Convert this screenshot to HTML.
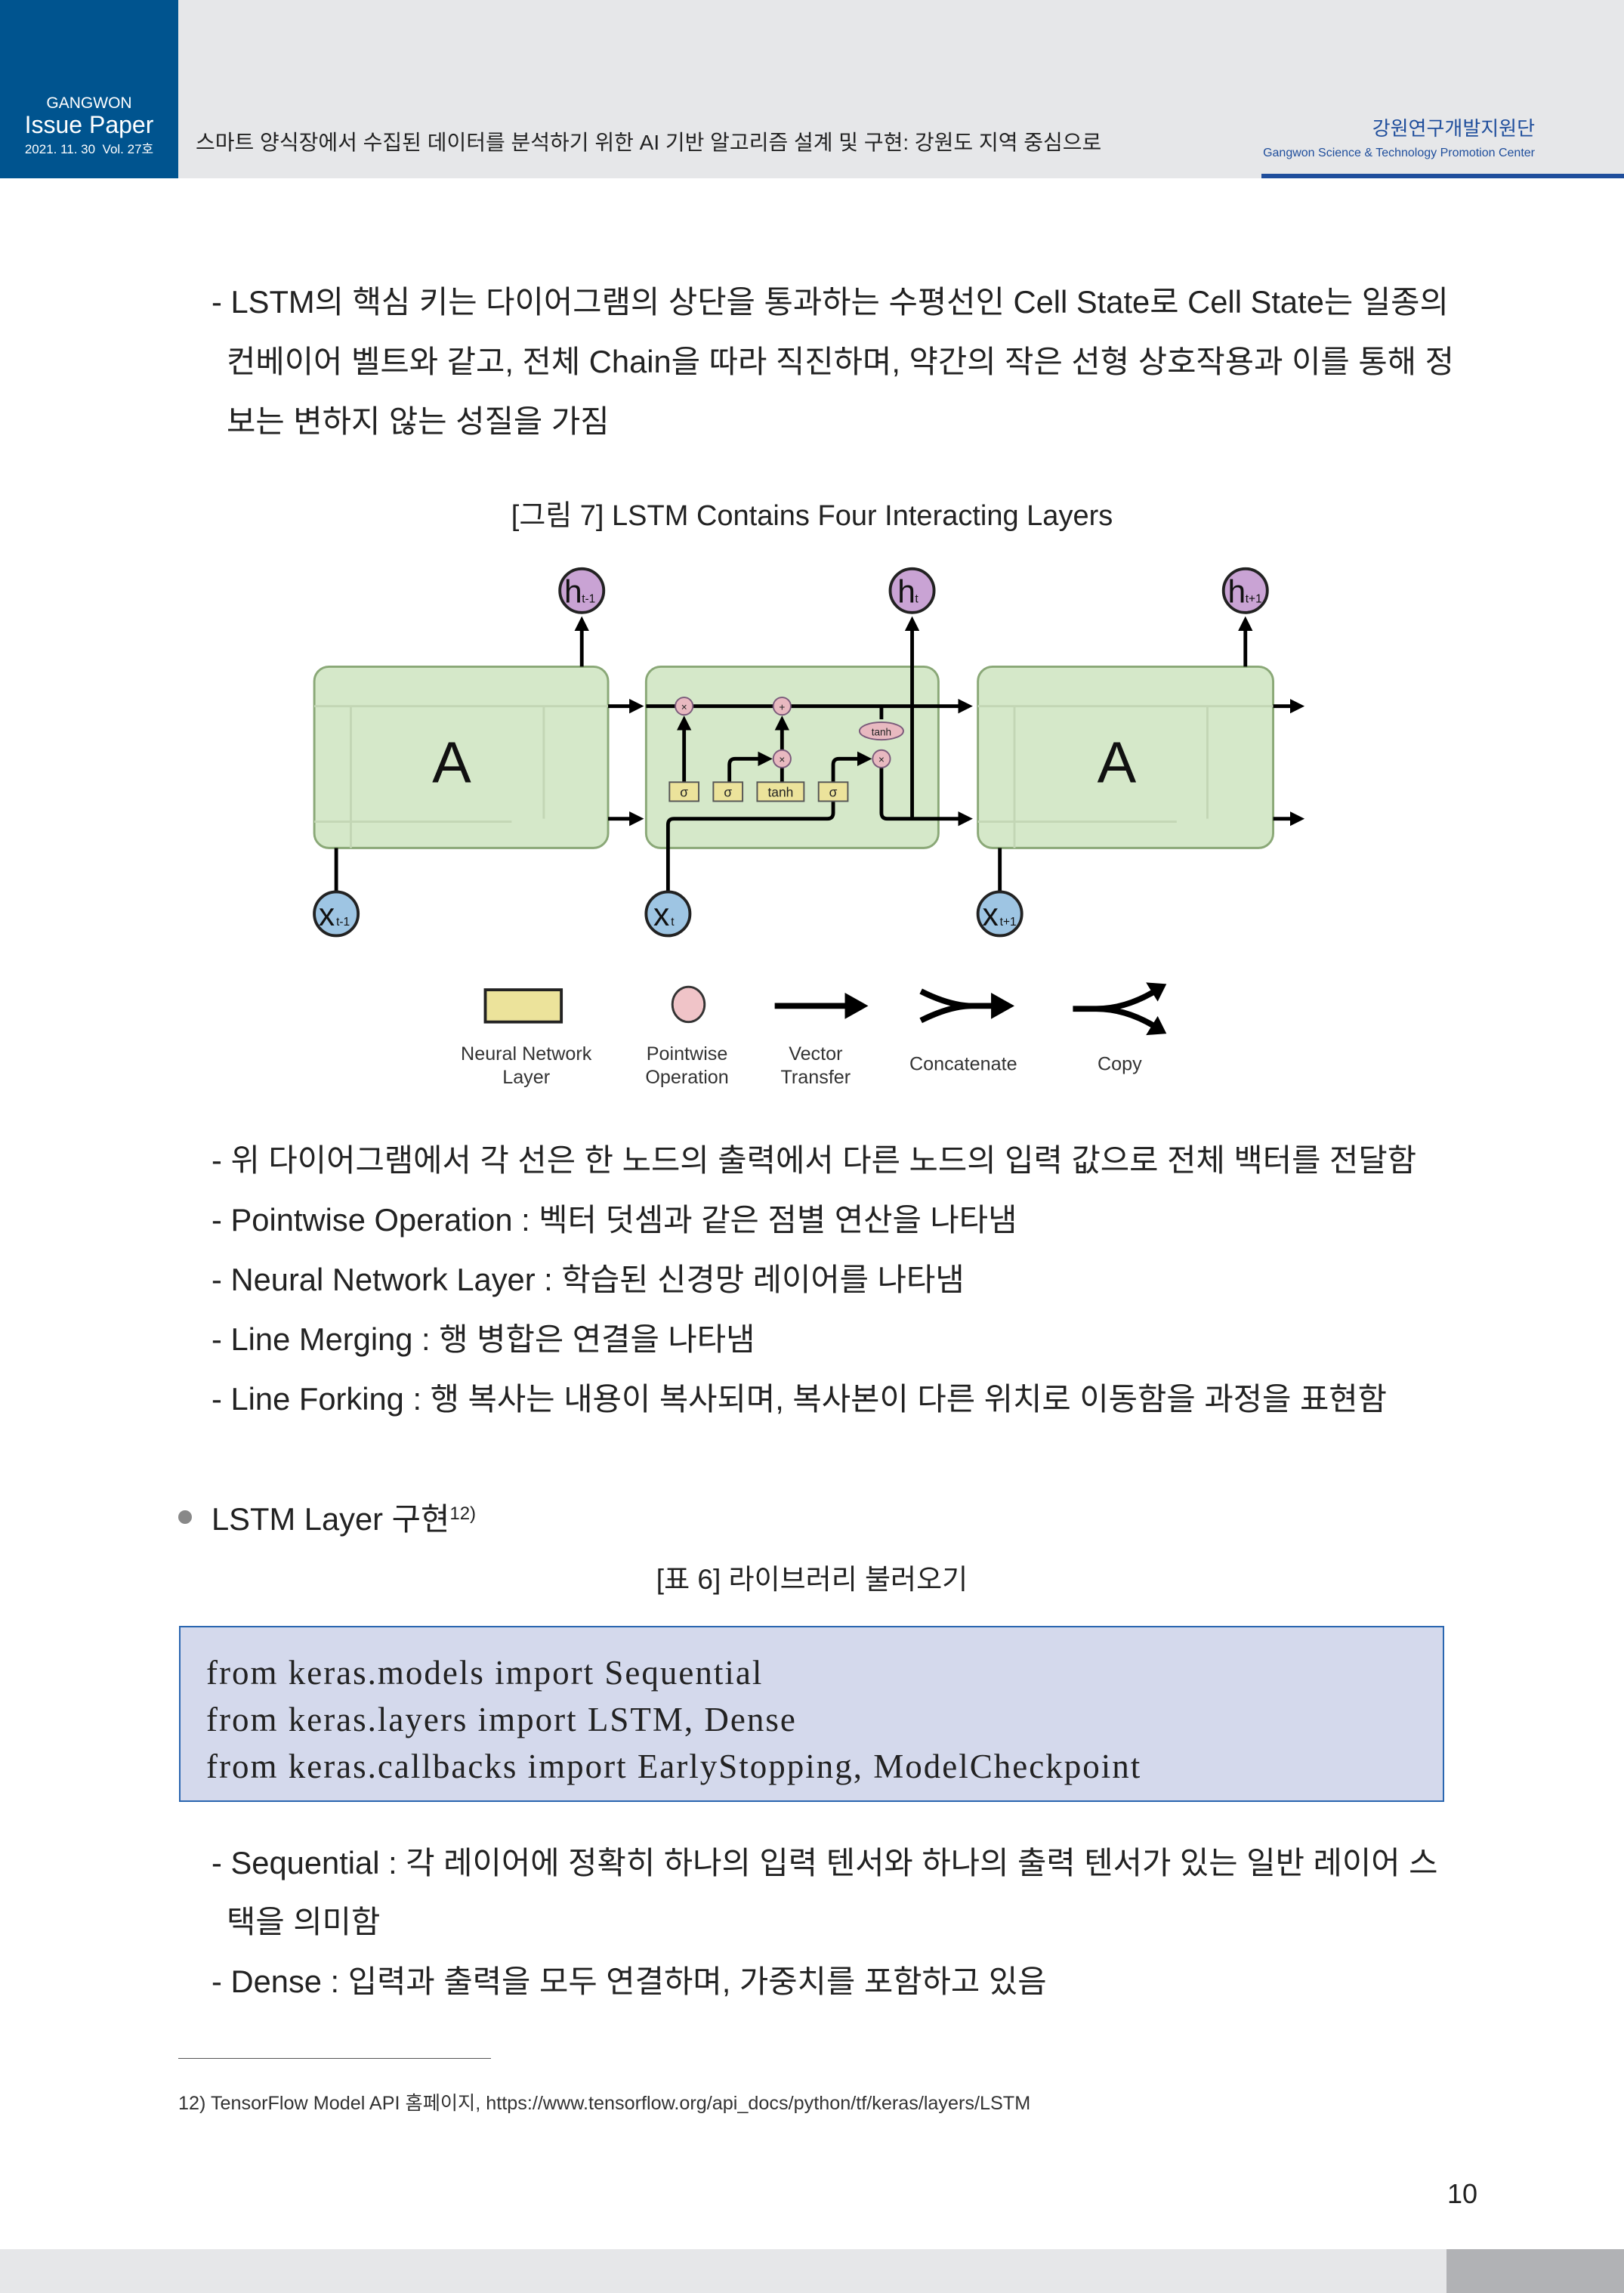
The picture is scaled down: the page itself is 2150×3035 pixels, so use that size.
<!DOCTYPE html>
<html><head><meta charset="utf-8">
<style>
*{margin:0;padding:0;box-sizing:border-box}
body{width:2150px;height:3035px;position:relative;background:#fff;overflow:hidden;font-family:"Liberation Sans","Noto Sans CJK KR",sans-serif;color:#222}
.a{position:absolute;white-space:nowrap;line-height:1}
.t{font-size:41.7px;color:#222}
</style></head><body>
<!-- header -->
<div class="a" style="left:0;top:0;width:2150px;height:236px;background:#e6e7e9"></div>
<div class="a" style="left:0;top:0;width:236px;height:236px;background:#00548f"></div>
<div class="a" style="left:0;top:126px;width:236px;text-align:center;color:#fff;font-size:21px">GANGWON</div>
<div class="a" style="left:0;top:149px;width:236px;text-align:center;color:#fff;font-size:32px">Issue Paper</div>
<div class="a" style="left:0;top:189px;width:236px;text-align:center;color:#fff;font-size:17px">2021. 11. 30 &nbsp;Vol. 27호</div>
<div class="a" style="left:259px;top:175px;font-size:28px;color:#222">스마트 양식장에서 수집된 데이터를 분석하기 위한 AI 기반 알고리즘 설계 및 구현: 강원도 지역 중심으로</div>
<div class="a" style="right:118px;top:157px;font-size:26px;color:#1f4e9c">강원연구개발지원단</div>
<div class="a" style="right:118px;top:195px;font-size:16px;color:#1f4e9c">Gangwon Science &amp; Technology Promotion Center</div>
<div class="a" style="left:1670px;top:230px;width:480px;height:6px;background:#1f4e9c"></div>

<!-- paragraph -->
<div class="a t" style="left:280px;top:379px">- LSTM의 핵심 키는 다이어그램의 상단을 통과하는 수평선인 Cell State로 Cell State는 일종의</div>
<div class="a t" style="left:300px;top:458px">컨베이어 벨트와 같고, 전체 Chain을 따라 직진하며, 약간의 작은 선형 상호작용과 이를 통해 정</div>
<div class="a t" style="left:300px;top:537px">보는 변하지 않는 성질을 가짐</div>
<div class="a" style="left:0;width:2150px;text-align:center;top:664px;font-size:38px;color:#222">[그림 7] LSTM Contains Four Interacting Layers</div>

<svg class="a" style="left:0;top:0" width="2150" height="3035" viewBox="0 0 1111 1568.37">
<defs><marker id="ar" markerWidth="4" markerHeight="4" refX="3" refY="2" orient="auto" markerUnits="strokeWidth"><path d="M0,0 L4,2 L0,4 z" fill="#000"/></marker></defs>
<g stroke="#8aa877" stroke-width="1.5" fill="#d5e8c9">
<rect x="215" y="456" width="201" height="124" rx="10"/>
<rect x="442" y="456" width="200" height="124" rx="10"/>
<rect x="669" y="456" width="202" height="124" rx="10"/>
</g>
<g stroke="#c3d6b5" stroke-width="1.5" fill="none">
<path d="M215 483H416M215 562H350M240 483V580M372 483V560"/>
<path d="M669 483H871M669 562H805M694 483V580M826 483V560"/>
</g>
<text x="309" y="535" font-size="40" text-anchor="middle" font-family="Liberation Sans" fill="#111">A</text>
<text x="764" y="535" font-size="40" text-anchor="middle" font-family="Liberation Sans" fill="#111">A</text>
<g stroke="#000" stroke-width="2.5" fill="none" marker-end="url(#ar)">
<path d="M416 483H438"/><path d="M416 560H438"/>
<path d="M442 483H663"/><path d="M871 483H890"/><path d="M871 560H890"/>
<path d="M398 456V424"/><path d="M624 560V424"/><path d="M852 456V424"/>
<path d="M468 535V492"/><path d="M535 519V492"/>
<path d="M499 535V523Q499 519 503 519H526"/>
<path d="M570 535V523Q570 519 574 519H594"/>
<path d="M603 525V556Q603 560 607 560H663"/>
</g>
<g stroke="#000" stroke-width="2.5" fill="none">
<path d="M230 610V580"/><path d="M684 610V580"/>
<path d="M457 610V564Q457 560 461 560H566Q570 560 570 556V548"/>
<path d="M535 535V525"/><path d="M603 483V492"/>
</g>
<g stroke="#7a5a7a" stroke-width="1" fill="#e8b9c0">
<circle cx="468" cy="483" r="6"/><circle cx="535" cy="483" r="6"/>
<circle cx="535" cy="519" r="6"/><circle cx="603" cy="519" r="6"/>
<ellipse cx="603" cy="500" rx="15" ry="6"/>
</g>
<g font-size="7" text-anchor="middle" font-family="Liberation Sans" fill="#222">
<text x="468" y="486">×</text><text x="535" y="486">+</text><text x="535" y="522">×</text><text x="603" y="522">×</text><text x="603" y="503">tanh</text>
</g>
<g stroke="#555" stroke-width="1" fill="#ece39b">
<rect x="458" y="535" width="20" height="13"/><rect x="488" y="535" width="20" height="13"/><rect x="518" y="535" width="32" height="13"/><rect x="560" y="535" width="20" height="13"/>
</g>
<g font-size="9" text-anchor="middle" font-family="Liberation Sans" fill="#222">
<text x="468" y="545">σ</text><text x="498" y="545">σ</text><text x="534" y="545">tanh</text><text x="570" y="545">σ</text>
</g>
<g stroke="#222" stroke-width="2" fill="#c9a3d4">
<circle cx="398" cy="404" r="15"/><circle cx="624" cy="404" r="15"/><circle cx="852" cy="404" r="15"/>
</g>
<g stroke="#222" stroke-width="2" fill="#9ec5e3">
<circle cx="230" cy="625" r="15"/><circle cx="457" cy="625" r="15"/><circle cx="684" cy="625" r="15"/>
</g>
<g font-family="Liberation Sans" fill="#111">
<text x="386" y="412" font-size="22">h</text><text x="398" y="412" font-size="8">t-1</text>
<text x="614" y="412" font-size="22">h</text><text x="626" y="412" font-size="8">t</text>
<text x="840" y="412" font-size="22">h</text><text x="852" y="412" font-size="8">t+1</text>
<text x="218" y="633" font-size="22">x</text><text x="230" y="633" font-size="8">t-1</text>
<text x="447" y="633" font-size="22">x</text><text x="459" y="633" font-size="8">t</text>
<text x="672" y="633" font-size="22">x</text><text x="684" y="633" font-size="8">t+1</text>
</g>
<!-- legend -->
<rect x="332" y="677" width="52" height="22" fill="#ece39b" stroke="#222" stroke-width="2"/>
<ellipse cx="471" cy="687" rx="11" ry="12" fill="#f0c4c8" stroke="#333" stroke-width="1.5"/>
<g stroke="#000" stroke-width="4" fill="none">
<path d="M530 688H580"/>
<path d="M630 678Q650 688 665 688H680M630 698Q650 688 665 688"/>
<path d="M734 690H750Q770 690 790 678M750 690Q770 690 790 702"/>
</g>
<g fill="#000"><path d="M578 679L594 688L578 697z"/><path d="M678 679L694 688L678 697z"/><path d="M784 672L798 673L792 685z"/><path d="M784 708L798 707L792 695z"/></g>
<g font-size="13" text-anchor="middle" font-family="Liberation Sans" fill="#333">
<text x="360" y="725">Neural Network</text><text x="360" y="741">Layer</text>
<text x="470" y="725">Pointwise</text><text x="470" y="741">Operation</text>
<text x="558" y="725">Vector</text><text x="558" y="741">Transfer</text>
<text x="659" y="732">Concatenate</text><text x="766" y="732">Copy</text>
</g>
</svg>

<div class="a t" style="left:280px;top:1515px">- 위 다이어그램에서 각 선은 한 노드의 출력에서 다른 노드의 입력 값으로 전체 백터를 전달함</div>
<div class="a t" style="left:280px;top:1594px">- Pointwise Operation : 벡터 덧셈과 같은 점별 연산을 나타냄</div>
<div class="a t" style="left:280px;top:1673px">- Neural Network Layer : 학습된 신경망 레이어를 나타냄</div>
<div class="a t" style="left:280px;top:1752px">- Line Merging : 행 병합은 연결을 나타냄</div>
<div class="a t" style="left:280px;top:1831px">- Line Forking : 행 복사는 내용이 복사되며, 복사본이 다른 위치로 이동함을 과정을 표현함</div>

<div class="a" style="left:236px;top:1999px;width:18px;height:18px;border-radius:50%;background:#888"></div>
<div class="a t" style="left:280px;top:1990px">LSTM Layer 구현<sup style="font-size:24px;vertical-align:14px">12)</sup></div>
<div class="a" style="left:0;width:2150px;text-align:center;top:2072px;font-size:37px">[표 6] 라이브러리 불러오기</div>

<div class="a" style="left:237px;top:2152px;width:1675px;height:233px;background:#d4d9ec;border:2px solid #2a66b0"></div>
<div class="a" style="left:273px;top:2183px;font-family:'Liberation Serif',serif;font-size:45px;letter-spacing:2px;color:#222;line-height:62px">from keras.models import Sequential<br>from keras.layers import LSTM, Dense<br>from keras.callbacks import EarlyStopping, ModelCheckpoint</div>

<div class="a t" style="left:280px;top:2445px">- Sequential : 각 레이어에 정확히 하나의 입력 텐서와 하나의 출력 텐서가 있는 일반 레이어 스</div>
<div class="a t" style="left:300px;top:2523px">택을 의미함</div>
<div class="a t" style="left:280px;top:2602px">- Dense : 입력과 출력을 모두 연결하며, 가중치를 포함하고 있음</div>

<div class="a" style="left:236px;top:2724px;width:414px;height:1px;background:#555"></div>
<div class="a" style="left:236px;top:2772px;font-size:25.2px;color:#333">12) TensorFlow Model API 홈페이지, https://www.tensorflow.org/api_docs/python/tf/keras/layers/LSTM</div>
<div class="a" style="left:1916px;top:2886px;font-size:36px;color:#222">10</div>
<div class="a" style="left:0;top:2977px;width:1915px;height:58px;background:#e6e7e9"></div>
<div class="a" style="left:1915px;top:2977px;width:235px;height:58px;background:#b1b2b5"></div>
</body></html>
